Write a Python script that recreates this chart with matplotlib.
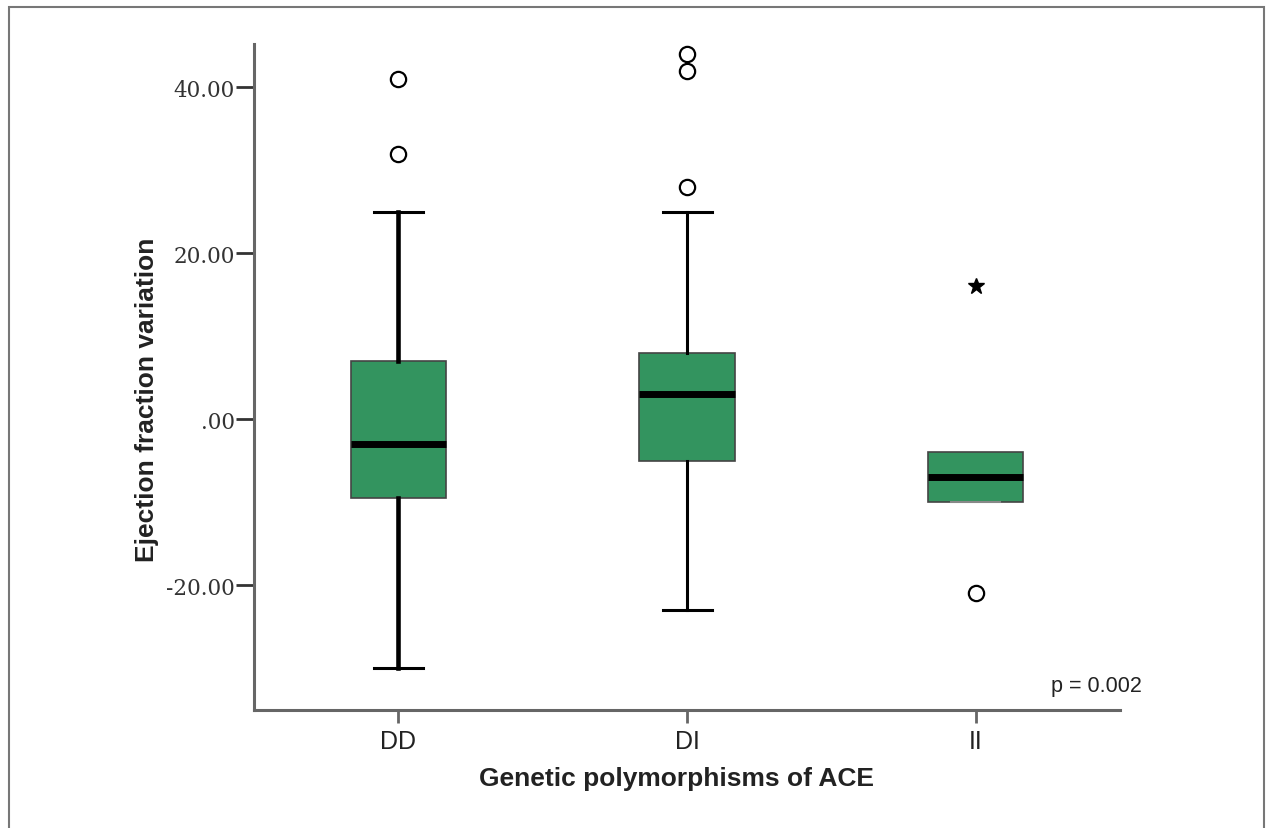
import matplotlib.pyplot as plt
from matplotlib.patches import Rectangle

# Datos (boxplot estilo SPSS)
grupos = ["DD", "DI", "II"]
bigote_sup = [25, 25, -4]
q3 = [7, 8, -4]
mediana = [-3, 3, -7]
q1 = [-9.5, -5, -10]
bigote_inf = [-30, -23, -10]
atipicos = [[41, 32], [44, 42, 28], [-21]]
extremos = [[], [], [16]]

y_ticks = [40, 20, 0, -20]
y_labels = ["40.00", "20.00", ".00", "-20.00"]

verde = "#33945f"
gris = "#666666"

fig = plt.figure(figsize=(12.69, 8.29), dpi=100)
ax = fig.add_axes([0.2002, 0.1423, 0.6824, 0.8034])

stats = []
for i, g in enumerate(grupos):
    stats.append({
        "label": g, "med": mediana[i], "q1": q1[i], "q3": q3[i],
        "whislo": bigote_inf[i], "whishi": bigote_sup[i], "fliers": atipicos[i],
    })

pos = [1, 2, 3]
cajas = ax.bxp(stats, positions=pos, widths=0.33, capwidths=0.17, patch_artist=True,
               boxprops=dict(facecolor=verde, edgecolor="#444444", linewidth=1.2),
               medianprops=dict(color="black", linewidth=5, solid_capstyle="butt"),
               whiskerprops=dict(color="black", linewidth=2.2),
               capprops=dict(color="black", linewidth=2.2),
               flierprops=dict(marker="o", markerfacecolor="white", markeredgecolor="black",
                               markersize=11, markeredgewidth=1.6))

# bigotes de DD mas gruesos, caps de II casi invisibles
for w in cajas["whiskers"][0:2]:
    w.set_linewidth(3.3)
cajas["caps"][4].set_color("#888888")
cajas["caps"][4].set_linewidth(1.5)
cajas["caps"][5].set_visible(False)

# atipicos extremos (estrella)
for i, vals in enumerate(extremos):
    if vals:
        ax.plot([pos[i]] * len(vals), vals, linestyle="none", marker="*",
                color="black", markersize=12)

ax.set_xlim(0.5, 3.5)
ax.set_ylim(-35.06, 45.2)
ax.set_yticks(y_ticks)
ax.set_yticklabels(y_labels, family="DejaVu Serif", fontsize=15.5, color="#333333")
ax.set_xticks(pos)
ax.set_xticklabels(grupos, family="Liberation Sans", fontsize=18, color="#222222")

for s in ["top", "right"]:
    ax.spines[s].set_visible(False)
for s in ["left", "bottom"]:
    ax.spines[s].set_color(gris)
    ax.spines[s].set_linewidth(2.2)
ax.tick_params(axis="y", length=13, width=2, color="#333333", pad=1)
ax.tick_params(axis="x", length=9, width=2, color=gris, pad=5)

fuente_etiq = ["Liberation Sans Narrow", "Liberation Sans"]
ax.set_ylabel("Ejection fraction variation", family=fuente_etiq, fontweight="bold",
              fontsize=19, color="#222222")
ax.set_xlabel("Genetic polymorphisms of ACE", family=fuente_etiq, fontweight="bold",
              fontsize=19, color="#222222")
ax.yaxis.set_label_coords(-0.11, 0.467)
ax.xaxis.set_label_coords(0.488, -0.0845)

ax.text(1.025, 0.0375, "p = 0.002", transform=ax.transAxes, ha="right", va="center",
        family="Liberation Sans", fontsize=15.5, color="#222222")

# marco exterior de la figura
fig.patches.append(Rectangle((9 / 1269, -0.01), 1255 / 1269, 1 - 8 / 829 + 0.01,
                             transform=fig.transFigure, fill=False,
                             edgecolor="#777777", linewidth=1.5))

fig.savefig("out.png", dpi=100)
